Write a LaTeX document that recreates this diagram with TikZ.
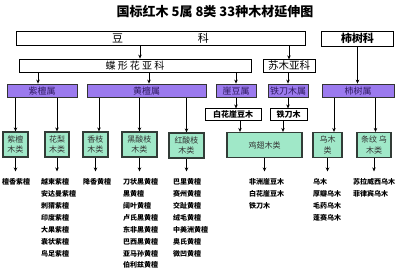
\documentclass[tikz,border=0pt]{standalone}
\usepackage{fontspec}
\usepackage{xcolor}
\usepackage{tikz}
\usetikzlibrary{arrows.meta}
\newfontfamily\cjk{Noto Sans CJK SC}
\definecolor{shufill}{RGB}{155,122,238}
\definecolor{shutext}{RGB}{45,25,95}
\definecolor{leifill}{RGB}{160,232,200}
\definecolor{leiedge}{RGB}{50,60,55}
\tikzset{
  kebox/.style={draw=black, line width=0.8pt, fill=white, inner sep=0pt},
  shubox/.style={draw=black!80, line width=0.8pt, fill=shufill, text=shutext, inner sep=0pt,
    minimum height=13.5pt, font=\cjk\fontsize{9}{10}\selectfont},
  leibox/.style={draw=leiedge, line width=1.2pt, fill=leifill, text=black!80, inner sep=0pt,
    minimum height=25pt, align=center, font=\cjk\fontsize{8}{10.5}\selectfont},
  zhongbox/.style={draw=black, line width=0.7pt, fill=white, inner sep=0pt,
    minimum height=11.5pt, font=\cjk\bfseries\fontsize{8}{9}\selectfont},
  item/.style={anchor=west, inner sep=0pt, font=\cjk\bfseries\fontsize{7}{8}\selectfont},
  arr/.style={-{Stealth[length=4pt,width=3.5pt]}, line width=0.7pt},
}
\begin{document}
\begin{tikzpicture}[x=1pt, y=-1pt]
  \useasboundingbox (0,0) rectangle (400,274);
  \node[font=\cjk\bfseries\fontsize{13}{14}\selectfont] (title) at (215,12) {国标红木 5属 8类 33种木材延伸图};

  \node[kebox, minimum width=289pt, minimum height=14pt, font=\cjk\fontsize{11}{12}\selectfont] (dou) at (160.5,38) {豆\hspace{75pt}科};
  \node[kebox, minimum width=72pt, minimum height=15pt, font=\cjk\bfseries\fontsize{11}{12}\selectfont] (shike) at (357.5,38.5) {柿树科};
  \node[kebox, minimum width=232pt, minimum height=13pt, font=\cjk\fontsize{10}{11}\selectfont] (dxh) at (135,65.5) {蝶 形 花 亚 科};
  \node[kebox, minimum width=52pt, minimum height=12.5pt, font=\cjk\fontsize{10.5}{11}\selectfont] (sumu) at (289,66) {苏木亚科};

  \node[shubox, minimum width=70pt]  (zt) at (42,90.75)  {紫檀属};
  \node[shubox, minimum width=119pt] (ht) at (146.5,90.75) {黄檀属};
  \node[shubox, minimum width=40pt]  (yd) at (236,90.75) {崖豆属};
  \node[shubox, minimum width=40pt]  (td) at (288,90.75) {铁刀木属};
  \node[shubox, minimum width=72pt]  (ss) at (358,90.75) {柿树属};

  \node[zhongbox, minimum width=56pt] (bh)  at (233,114.5)   {白花崖豆木};
  \node[zhongbox, minimum width=37pt] (tdm) at (288.5,114.5) {铁刀木};

  \node[leibox, minimum width=25pt] (ztm) at (15.5,144.5)  {紫檀\\木类};
  \node[leibox, minimum width=24pt] (hlm) at (57,144.5)    {花梨\\木类};
  \node[leibox, minimum width=25pt] (xzm) at (95.5,144.5)  {香枝\\木类};
  \node[leibox, minimum width=35pt] (hsm) at (139.5,144.5) {黑酸枝\\木类};
  \node[leibox, minimum width=35pt] (hzm) at (186.5,145.5) {红酸枝\\木类};
  \node[leibox, minimum width=75pt] (jcm) at (264.5,145)   {鸡翅木类};
  \node[leibox, minimum width=29pt] (wmm) at (327.5,145)   {乌木\\类};
  \node[leibox, minimum width=34pt] (twm) at (374,145)     {条纹 乌\\木类};

  \draw[arr] ([xshift=5pt]dxh.north |- dou.south) -- ([xshift=5pt]dxh.north);
  \draw[arr] (dou.south -| sumu.north) -- (sumu.north);
  \draw[arr] (shike.south) -- (shike.south |- ss.north);
  \draw[arr] ([xshift=-4pt]zt.north |- dxh.south) -- ([xshift=-4pt]zt.north);
  \draw[arr] ([xshift=2.5pt]ht.north |- dxh.south) -- ([xshift=2.5pt]ht.north);
  \draw[arr] (dxh.south -| yd.north) -- (yd.north);
  \draw[arr] (sumu.south -| td.north) -- (td.north);
  \draw[arr] (yd.south) -- (yd.south |- bh.north);
  \draw[arr] (td.south) -- (td.south |- tdm.north);
  \draw[arr] ([xshift=7pt]bh.south) -- ([xshift=7pt]bh.south |- jcm.north);
  \draw[arr] ([xshift=-5.5pt]tdm.south) -- ([xshift=-5.5pt]tdm.south |- jcm.north);

  \draw[arr] (zt.south -| ztm.north) -- (ztm.north);
  \draw[arr] (zt.south -| hlm.north) -- (hlm.north);
  \draw[arr] ([xshift=3.5pt]xzm.north |- ht.south) -- ([xshift=3.5pt]xzm.north);
  \draw[arr] (ht.south -| hsm.north) -- (hsm.north);
  \draw[arr] (ht.south -| hzm.north) -- (hzm.north);
  \draw[arr] ([xshift=6.5pt]wmm.north |- ss.south) -- ([xshift=6.5pt]wmm.north);
  \draw[arr] ([xshift=1.5pt]twm.north |- ss.south) -- ([xshift=1.5pt]twm.north);

  \foreach \t [count=\i] in {檀香紫檀}
    \node[item] (zt\i) at (2,170.1+11.9*\i) {\t};
  \foreach \t [count=\i] in {越柬紫檀,安达曼紫檀,刺猬紫檀,印度紫檀,大果紫檀,囊状紫檀,鸟足紫檀}
    \node[item] (hl\i) at (41,170.1+11.9*\i) {\t};
  \foreach \t [count=\i] in {降香黄檀}
    \node[item] (xz\i) at (83,170.1+11.9*\i) {\t};
  \foreach \t [count=\i] in {刀状黑黄檀,黑黄檀,阔叶黄檀,卢氏黑黄檀,东非黑黄檀,巴西黑黄檀,亚马孙黄檀,伯利兹黄檀}
    \node[item] (hs\i) at (123,170.1+11.9*\i) {\t};
  \foreach \t [count=\i] in {巴里黄檀,赛州黄檀,交趾黄檀,绒毛黄檀,中美洲黄檀,奥氏黄檀,微凹黄檀}
    \node[item] (hz\i) at (173,170.1+11.9*\i) {\t};
  \foreach \t [count=\i] in {非洲崖豆木,白花崖豆木,铁刀木}
    \node[item] (jc\i) at (249,170.1+11.9*\i) {\t};
  \foreach \t [count=\i] in {乌木,厚瓣乌木,毛药乌木,蓬赛乌木}
    \node[item] (wm\i) at (313,170.1+11.9*\i) {\t};
  \foreach \t [count=\i] in {苏拉威西乌木,菲律宾乌木}
    \node[item] (tw\i) at (353,170.1+11.9*\i) {\t};

  \draw[arr, shorten >=7pt] (ztm.south) -- (ztm.south |- zt1.north);
  \draw[arr, shorten >=7pt] (hlm.south) -- (hlm.south |- hl1.north);
  \draw[arr, shorten >=7pt] (xzm.south) -- (xzm.south |- xz1.north);
  \draw[arr, shorten >=7pt] (hsm.south) -- (hsm.south |- hs1.north);
  \draw[arr, shorten >=7pt] (hzm.south) -- (hzm.south |- hz1.north);
  \draw[arr, shorten >=7pt] (jcm.south) -- (jcm.south |- jc1.north);
  \draw[arr, shorten >=7pt] (wmm.south) -- (wmm.south |- wm1.north);
  \draw[arr, shorten >=7pt] (twm.south) -- (twm.south |- tw1.north);
\end{tikzpicture}
\end{document}
